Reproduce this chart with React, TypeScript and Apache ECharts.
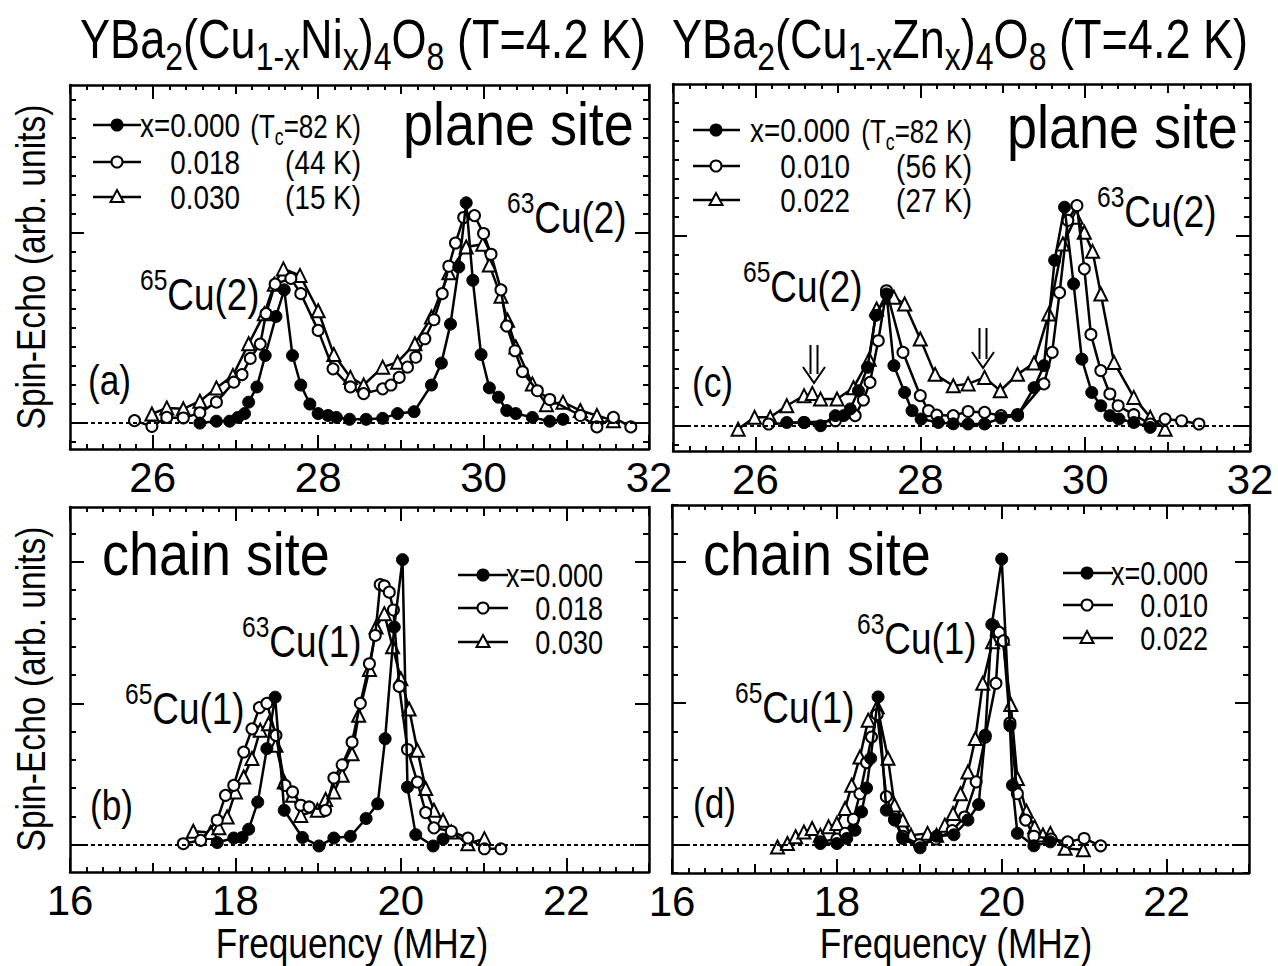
import React, { useEffect, useRef } from 'react';
import * as echarts from 'echarts';

type Pt = [number, number];

const FONT = '"Liberation Sans", Arial, sans-serif';
const NARROW = 0.82; // horizontal squeeze to emulate the condensed typeface of the original

// ---------------- data (frequency MHz, spin-echo intensity arb. units) ----------------
// (a) Ni-doped, plane site
const niPlane000: Pt[] = [
  [26.57, 0.0], [26.77, 0.01], [26.93, 0.01], [27.03, 0.03], [27.11, 0.05], [27.16, 0.11], [27.26, 0.19],
  [27.36, 0.355], [27.49, 0.56], [27.59, 0.7], [27.69, 0.355], [27.79, 0.2], [27.9, 0.1], [28.0, 0.05],
  [28.12, 0.04], [28.22, 0.03], [28.38, 0.02], [28.58, 0.02], [28.78, 0.025], [28.96, 0.05], [29.16, 0.06],
  [29.37, 0.2], [29.49, 0.315], [29.6, 0.52], [29.7, 0.82], [29.79, 1.157], [29.87, 0.75], [29.97, 0.36],
  [30.07, 0.185], [30.18, 0.136], [30.28, 0.066], [30.39, 0.05], [30.59, 0.03], [30.8, 0.01], [30.96, 0.02],
];
const niPlane018: Pt[] = [
  [25.78, 0.013], [25.99, -0.017], [26.17, 0.03], [26.37, 0.027], [26.57, 0.054], [26.77, 0.11], [26.98, 0.215],
  [27.08, 0.255], [27.18, 0.34], [27.3, 0.415], [27.37, 0.575], [27.48, 0.73], [27.67, 0.76], [27.79, 0.68],
  [28.0, 0.487], [28.18, 0.285], [28.39, 0.19], [28.55, 0.155], [28.78, 0.18], [28.88, 0.2], [28.98, 0.24],
  [29.08, 0.294], [29.18, 0.346], [29.29, 0.443], [29.4, 0.543], [29.5, 0.68], [29.58, 0.824], [29.66, 0.946],
  [29.76, 1.08], [29.89, 1.09], [30.0, 0.996], [30.09, 0.887], [30.21, 0.7], [30.28, 0.51], [30.38, 0.38],
  [30.47, 0.27], [30.65, 0.17], [30.8, 0.124], [31.17, 0.04], [31.37, -0.02], [31.57, 0.03], [31.78, -0.02],
];
const niPlane030: Pt[] = [
  [25.99, 0.048], [26.17, 0.08], [26.37, 0.075], [26.57, 0.115], [26.77, 0.185], [26.97, 0.25], [27.16, 0.417],
  [27.35, 0.575], [27.47, 0.73], [27.58, 0.81], [27.78, 0.776], [28.0, 0.59], [28.19, 0.36], [28.39, 0.24],
  [28.55, 0.2], [28.78, 0.294], [28.96, 0.32], [29.17, 0.417], [29.37, 0.557], [29.58, 0.79], [29.79, 0.925],
  [29.99, 0.94], [30.07, 0.83], [30.21, 0.666], [30.29, 0.54], [30.39, 0.4], [30.59, 0.206], [30.76, 0.097],
  [30.96, 0.11], [31.17, 0.066], [31.37, 0.04], [31.57, 0.013],
];

// (c) Zn-doped, plane site
const znPlane000: Pt[] = [
  [26.38, 0.017], [26.59, 0.017], [26.79, 0.0], [26.97, 0.053], [27.07, 0.053], [27.15, 0.088], [27.25, 0.184],
  [27.36, 0.307], [27.46, 0.58], [27.59, 0.693], [27.68, 0.316], [27.81, 0.175], [27.9, 0.079], [28.01, 0.035],
  [28.22, 0.017], [28.4, 0.01], [28.58, 0.009], [28.78, 0.009], [28.98, 0.04], [29.18, 0.053], [29.38, 0.2],
  [29.5, 0.316], [29.63, 0.87], [29.75, 1.149], [29.86, 0.746], [29.96, 0.35], [30.08, 0.175], [30.19, 0.105],
  [30.3, 0.053], [30.41, 0.035], [30.59, 0.017], [30.79, -0.009],
];
const znPlane010: Pt[] = [
  [26.16, 0.009], [26.59, 0.017], [26.97, 0.026], [27.21, 0.053], [27.31, 0.135], [27.39, 0.228], [27.49, 0.447],
  [27.59, 0.71], [27.79, 0.386], [28.0, 0.158], [28.1, 0.079], [28.2, 0.056], [28.4, 0.053], [28.58, 0.075],
  [28.78, 0.07], [28.98, 0.053], [29.18, 0.058], [29.5, 0.22], [29.6, 0.386], [29.69, 0.7], [29.79, 1.08],
  [29.9, 1.158], [29.99, 0.825], [30.07, 0.48], [30.19, 0.29], [30.3, 0.167], [30.4, 0.105], [30.59, 0.058],
  [30.79, 0.009], [30.97, 0.035], [31.17, 0.026], [31.38, 0.009],
];
const znPlane022: Pt[] = [
  [25.79, -0.018], [25.99, 0.044], [26.18, 0.044], [26.38, 0.105], [26.59, 0.158], [26.69, 0.17], [26.79, 0.14],
  [26.99, 0.14], [27.19, 0.2], [27.38, 0.35], [27.47, 0.614], [27.68, 0.675], [27.81, 0.64], [28.0, 0.456],
  [28.18, 0.27], [28.4, 0.21], [28.58, 0.22], [28.78, 0.254], [28.97, 0.184], [29.18, 0.27], [29.38, 0.33],
  [29.56, 0.588], [29.73, 0.956], [29.89, 1.096], [29.99, 1.017], [30.09, 0.917], [30.19, 0.693], [30.35, 0.333],
  [30.59, 0.149], [30.79, 0.044], [30.97, -0.018],
];

// (b) Ni-doped, chain site
const niChain000: Pt[] = [
  [17.78, 0.008], [17.98, 0.024], [18.08, 0.026], [18.16, 0.055], [18.27, 0.151], [18.38, 0.34], [18.48, 0.522],
  [18.59, 0.122], [18.81, 0.026], [19.01, -0.004], [19.19, 0.024], [19.39, 0.03], [19.58, 0.093], [19.72, 0.145],
  [19.81, 0.375], [19.92, 0.77], [20.02, 1.008], [20.08, 0.204], [20.18, 0.036], [20.39, -0.004], [20.51, 0.02],
];
const niChain018: Pt[] = [
  [17.37, 0.004], [17.58, 0.016], [17.78, 0.087], [17.88, 0.175], [17.98, 0.21], [18.1, 0.328], [18.2, 0.41],
  [18.29, 0.485], [18.38, 0.5], [18.49, 0.387], [18.6, 0.21], [18.69, 0.187], [18.79, 0.14], [18.89, 0.134],
  [19.09, 0.122], [19.19, 0.236], [19.29, 0.283], [19.41, 0.363], [19.51, 0.5], [19.62, 0.64], [19.69, 0.74],
  [19.75, 0.92], [19.8, 0.915], [19.86, 0.893], [19.91, 0.83], [19.98, 0.56], [20.08, 0.337], [20.2, 0.222],
  [20.3, 0.114], [20.4, 0.06], [20.61, 0.048], [20.81, 0.024], [21.01, -0.014], [21.21, -0.014],
];
const niChain030: Pt[] = [
  [17.49, 0.048], [17.7, 0.044], [17.8, 0.06], [17.9, 0.098], [18.0, 0.187], [18.1, 0.24], [18.2, 0.305],
  [18.3, 0.405], [18.4, 0.428], [18.49, 0.352], [18.59, 0.222], [18.69, 0.175], [18.79, 0.104], [18.99, 0.122],
  [19.09, 0.16], [19.19, 0.187], [19.29, 0.246], [19.41, 0.322], [19.49, 0.458], [19.62, 0.62], [19.7, 0.77],
  [19.8, 0.817], [19.9, 0.7], [20.0, 0.587], [20.1, 0.48], [20.2, 0.334], [20.3, 0.199], [20.4, 0.122],
  [20.51, 0.087], [20.61, 0.045], [20.81, 0.004], [21.01, 0.022],
];

// (d) Zn-doped, chain site
const znChain000: Pt[] = [
  [17.8, 0.004], [18.0, 0.004], [18.12, 0.022], [18.22, 0.051], [18.3, 0.116], [18.36, 0.2], [18.41, 0.305],
  [18.5, 0.522], [18.6, 0.122], [18.7, 0.087], [18.8, 0.022], [19.01, -0.011], [19.21, 0.03], [19.42, 0.035],
  [19.59, 0.087], [19.72, 0.142], [19.8, 0.387], [19.88, 0.778], [20.0, 1.009], [20.1, 0.42], [20.13, 0.21],
  [20.19, 0.04], [20.39, -0.004], [20.59, 0.01],
];
const znChain010: Pt[] = [
  [17.8, 0.01], [18.0, 0.02], [18.1, 0.04], [18.2, 0.09], [18.28, 0.18], [18.36, 0.29], [18.42, 0.38],
  [18.49, 0.46], [18.6, 0.17], [18.7, 0.09], [18.8, 0.03], [19.0, 0.0], [19.2, 0.02], [19.4, 0.05],
  [19.55, 0.098], [19.69, 0.222], [19.8, 0.38], [19.93, 0.57], [19.97, 0.75], [20.02, 0.72], [20.1, 0.43],
  [20.19, 0.18], [20.29, 0.087], [20.39, 0.03], [20.6, 0.02], [20.8, 0.01], [21.0, 0.022], [21.2, -0.004],
];
const znChain022: Pt[] = [
  [17.28, -0.008], [17.4, 0.004], [17.5, 0.028], [17.6, 0.045], [17.7, 0.057], [17.8, 0.033], [17.9, 0.063],
  [18.0, 0.075], [18.1, 0.128], [18.18, 0.21], [18.28, 0.31], [18.38, 0.44], [18.49, 0.487], [18.62, 0.305],
  [18.7, 0.14], [18.8, 0.087], [18.9, 0.033], [19.1, 0.04], [19.21, 0.033], [19.31, 0.069], [19.41, 0.11],
  [19.5, 0.18], [19.59, 0.257], [19.68, 0.375], [19.77, 0.57], [19.89, 0.717], [19.95, 0.764], [20.01, 0.729],
  [20.11, 0.495], [20.19, 0.234], [20.3, 0.118], [20.4, 0.063], [20.5, 0.034], [20.59, 0.04], [20.77, -0.013],
  [20.99, -0.018],
];

const planeTickLabels = [26, 28, 30, 32];
const chainTickLabels = [16, 18, 20, 22];
const niLegendValues = ['x=0.000', '0.018', '0.030'];
const niTcValues = [82, 44, 15];
const znLegendValues = ['x=0.000', '0.010', '0.022'];
const znTcValues = [82, 56, 27];

// ---------------- layout ----------------
function range(a: number, b: number, step: number): number[] {
  const out: number[] = [];
  const n = Math.round((b - a) / step);
  for (let i = 0; i <= n; i++) out.push(Math.round((a + i * step) * 1000) / 1000);
  return out;
}

const PANELS = [
  { grid: { left: 70, top: 85, width: 579, height: 364 }, x: [25, 32], y: [-0.136, 1.776], yMajor: [0, 1],
    labels: planeTickLabels, data: [niPlane030, niPlane018, niPlane000] },
  { grid: { left: 673, top: 84, width: 577, height: 367 }, x: [25, 32], y: [-0.133, 1.797], yMajor: [0, 1],
    labels: planeTickLabels, data: [znPlane022, znPlane010, znPlane000] },
  { grid: { left: 70, top: 507, width: 579, height: 365 }, x: [16, 23], y: [-0.096, 1.194], yMajor: [0, 0.5, 1],
    labels: chainTickLabels, data: [niChain030, niChain018, niChain000] },
  { grid: { left: 672, top: 505, width: 577, height: 368 }, x: [16, 23], y: [-0.1, 1.2], yMajor: [0, 0.5, 1],
    labels: chainTickLabels, data: [znChain022, znChain010, znChain000] },
];

const MARKERS = [
  { symbol: 'triangle', size: 13, item: { color: '#fff', borderColor: '#000', borderWidth: 2 } },
  { symbol: 'circle', size: 11, item: { color: '#fff', borderColor: '#000', borderWidth: 2 } },
  { symbol: 'circle', size: 12, item: { color: '#000', borderColor: '#000', borderWidth: 1 } },
];

function baseAxis(gridIndex: number, min: number, max: number, position: string): any {
  return {
    type: 'value', gridIndex, min, max, position, silent: true,
    splitLine: { show: false }, minorTick: { show: false }, minorSplitLine: { show: false },
    axisLine: { show: false, onZero: false }, axisLabel: { show: false }, axisTick: { show: false },
    axisPointer: { show: false },
  };
}
function tickAxis(gridIndex: number, min: number, max: number, position: string, values: number[], length: number, withLine: boolean): any {
  const a = baseAxis(gridIndex, min, max, position);
  a.axisTick = { show: true, inside: true, length, customValues: values, lineStyle: { color: '#000', width: 2 } };
  if (withLine) a.axisLine = { show: true, onZero: false, lineStyle: { color: '#000', width: 2.5 } };
  return a;
}

function text(x: number, y: number, str: string, fontSize: number, align = 'left', rich?: any, sx = NARROW, rotation = 0): any {
  return {
    type: 'text', x, y, silent: true, z: 50, scaleX: sx, rotation,
    style: {
      text: str, fill: '#000', fontSize, fontFamily: FONT,
      textAlign: align, textVerticalAlign: 'middle', rich,
    },
  };
}

function supLabel(x: number, baseline: number, sup: string, main: string): any {
  return text(x, baseline - 15.6, `{s|${sup}}{m|${main}}`, 45, 'left', {
    m: { fontSize: 45, fontFamily: FONT, fill: '#000', verticalAlign: 'middle' },
    s: { fontSize: 30, fontFamily: FONT, fill: '#000', verticalAlign: 'middle', padding: [0, 0, 30, 0] },
  });
}

function title(x: number, baseline: number, dopant: string): any {
  const str = `{m|YBa}{s|2}{m|(Cu}{s|1-x}{m|${dopant}}{s|x}{m|)}{s|4}{m|O}{s|8}{m| (T=4.2 K)}`;
  return text(x, baseline - 19.1, str, 55, 'left', {
    m: { fontSize: 55, fontFamily: FONT, fill: '#000', verticalAlign: 'middle' },
    s: { fontSize: 39, fontFamily: FONT, fill: '#000', verticalAlign: 'middle', padding: [35, 0, 0, 0] },
  });
}

function marker(k: number, cx: number, cy: number): any {
  if (k === 0) return { type: 'circle', silent: true, z: 50, shape: { cx, cy, r: 6.5 }, style: { fill: '#000' } };
  if (k === 1) return { type: 'circle', silent: true, z: 50, shape: { cx, cy, r: 5.5 }, style: { fill: '#fff', stroke: '#000', lineWidth: 2 } };
  return { type: 'polygon', silent: true, z: 50, shape: { points: [[cx, cy - 7], [cx + 6.5, cy + 5], [cx - 6.5, cy + 5]] }, style: { fill: '#fff', stroke: '#000', lineWidth: 2 } };
}

function legend(cfg: any, values: string[], tcs: number[] | null): any[] {
  const els: any[] = [];
  cfg.rows.forEach((ry: number, k: number) => {
    els.push({ type: 'line', silent: true, z: 49, shape: { x1: cfg.x1, y1: ry, x2: cfg.x2, y2: ry }, style: { stroke: '#000', lineWidth: 2.5 } });
    els.push(marker(k, cfg.mx, ry));
    els.push(text(cfg.valRight, ry + 1, values[k], cfg.fs, 'right'));
    if (tcs) {
      const str = k === 0 ? `{m|(T}{s|c}{m|=${tcs[k]} K)}` : `{m|(${tcs[k]} K)}`;
      els.push(text(cfg.tcRight, ry + 1, str, cfg.fs, 'right', {
        m: { fontSize: cfg.fs, fontFamily: FONT, fill: '#000', verticalAlign: 'middle' },
        s: { fontSize: 23, fontFamily: FONT, fill: '#000', verticalAlign: 'middle', padding: [21, 0, 0, 0] },
      }, k === 0 ? 0.765 : NARROW));
    }
  });
  return els;
}

function dblArrow(x: number, y1: number, y2: number): any[] {
  const st = { stroke: '#000', lineWidth: 2, fill: 'none' };
  return [
    { type: 'line', silent: true, z: 50, shape: { x1: x - 3.5, y1, x2: x - 3.5, y2: y2 - 9 }, style: st },
    { type: 'line', silent: true, z: 50, shape: { x1: x + 3.5, y1, x2: x + 3.5, y2: y2 - 9 }, style: st },
    { type: 'polyline', silent: true, z: 50, shape: { points: [[x - 11, y2 - 16], [x, y2], [x + 11, y2 - 16]] }, style: st },
  ];
}

function buildOption(): any {
  const xAxis: any[] = [];
  const yAxis: any[] = [];
  const series: any[] = [];
  PANELS.forEach((p, g) => {
    const [x0, x1] = p.x;
    const [y0, y1] = p.y;
    const minorX = range(x0, x1, 0.2);
    const midX = range(x0, x1, 1);
    const majorX = midX.filter((v) => v % 2 === 0);
    const minorY = range(Math.ceil(y0 * 10) / 10, Math.floor(y1 * 10) / 10, 0.1);

    const bottom = tickAxis(g, x0, x1, 'bottom', minorX, 5, true);
    bottom.axisLabel = { show: true, customValues: p.labels, margin: 7, fontSize: 42, fontFamily: FONT, color: '#000' };
    xAxis.push(bottom,
      tickAxis(g, x0, x1, 'bottom', midX, 9, false),
      tickAxis(g, x0, x1, 'bottom', majorX, 14, false),
      tickAxis(g, x0, x1, 'top', minorX, 5, true),
      tickAxis(g, x0, x1, 'top', midX, 9, false),
      tickAxis(g, x0, x1, 'top', majorX, 14, false));

    yAxis.push(tickAxis(g, y0, y1, 'left', minorY, 6, true),
      tickAxis(g, y0, y1, 'left', p.yMajor, 14, false),
      tickAxis(g, y0, y1, 'right', minorY, 6, true),
      tickAxis(g, y0, y1, 'right', p.yMajor, 14, false));

    p.data.forEach((d, k) => {
      const m = MARKERS[k];
      series.push({
        type: 'line', xAxisIndex: g * 6, yAxisIndex: g * 4, data: d,
        symbol: m.symbol, symbolSize: m.size, showSymbol: true, showAllSymbol: true,
        itemStyle: m.item, lineStyle: { color: '#000', width: 2.5 },
        emphasis: { disabled: true }, silent: true, z: 3 + k,
        markLine: k === 0 ? {
          silent: true, symbol: ['none', 'none'], label: { show: false },
          lineStyle: { type: [4, 3], color: '#000', width: 2 },
          emphasis: { disabled: true },
          data: [{ yAxis: 0 }],
        } : undefined,
      });
    });
  });

  const elements: any[] = [
    title(80, 58, 'Ni'),
    title(672, 58, 'Zn'),
    text(403, 145 - 21.5, 'plane site', 62, 'left', undefined, 0.87),
    text(1007, 148 - 21.5, 'plane site', 62, 'left', undefined, 0.87),
    text(102, 575 - 21.5, 'chain site', 62, 'left', undefined, 0.87),
    text(703, 575 - 21.5, 'chain site', 62, 'left', undefined, 0.87),
    text(88, 395 - 15, '(a)', 43),
    text(692, 397 - 15, '(c)', 43),
    text(90, 820 - 15, '(b)', 43),
    text(693, 818 - 15, '(d)', 43),
    supLabel(140, 310, '65', 'Cu(2)'),
    supLabel(507, 233, '63', 'Cu(2)'),
    supLabel(743, 302, '65', 'Cu(2)'),
    supLabel(1097, 227, '63', 'Cu(2)'),
    supLabel(125, 724, '65', 'Cu(1)'),
    supLabel(242, 657, '63', 'Cu(1)'),
    supLabel(735, 723, '65', 'Cu(1)'),
    supLabel(857, 654, '63', 'Cu(1)'),
    // axis titles
    text(31, 267, 'Spin-Echo (arb. units)', 41, 'center', undefined, NARROW, Math.PI / 2),
    text(31, 689, 'Spin-Echo (arb. units)', 41, 'center', undefined, NARROW, Math.PI / 2),
    text(352, 943, 'Frequency (MHz)', 43, 'center'),
    text(956, 943, 'Frequency (MHz)', 43, 'center'),
    ...legend({ x1: 93, x2: 141, mx: 117, rows: [125, 162, 197], valRight: 240, tcRight: 361, fs: 34 }, niLegendValues, niTcValues),
    ...legend({ x1: 693, x2: 740, mx: 716, rows: [130, 166, 200], valRight: 850, tcRight: 972, fs: 34 }, znLegendValues, znTcValues),
    ...legend({ x1: 458, x2: 508, mx: 483, rows: [575, 608, 642], valRight: 603, fs: 33 }, niLegendValues, null),
    ...legend({ x1: 1063, x2: 1113, mx: 1087, rows: [573, 605, 638], valRight: 1208, fs: 33 }, znLegendValues, null),
    ...dblArrow(814, 345, 383),
    ...dblArrow(983, 328, 368),
  ];

  return {
    animation: false,
    backgroundColor: '#fff',
    grid: PANELS.map((p) => ({ ...p.grid, containLabel: false })),
    xAxis,
    yAxis,
    series,
    graphic: { elements },
  };
}

export default function App() {
  const ref = useRef<HTMLDivElement>(null);
  useEffect(() => {
    if (!ref.current) return;
    const chart = echarts.init(ref.current, undefined, { renderer: 'svg' });
    chart.setOption(buildOption());
    return () => chart.dispose();
  }, []);
  return <div ref={ref} style={{ position: 'fixed', left: 0, top: 0, width: 1278, height: 966, background: '#fff' }} />;
}
